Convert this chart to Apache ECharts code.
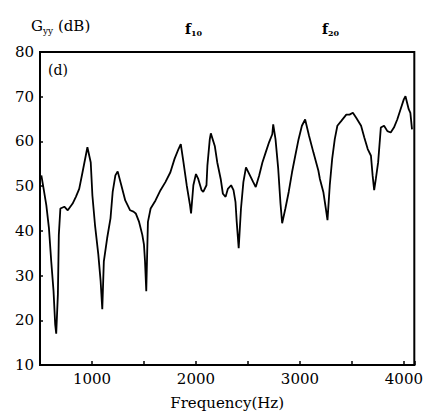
<!DOCTYPE html>
<html><head><meta charset="utf-8">
<script src="https://cdn.jsdelivr.net/npm/echarts@6/dist/echarts.min.js"></script>
<style>html,body{margin:0;padding:0;background:#fff}#c{width:426px;height:415px}</style>
</head><body><div id="c"></div>
<script>
const freqHz = [513,535,561,586,608,630,646,656,672,681,696,734,767,814,845,877,909,940,956,988,1004,1029,1061,1083,1099,1114,1146,1178,1199,1225,1247,1282,1320,1367,1399,1421,1453,1484,1500,1510,1522,1538,1564,1611,1659,1706,1754,1794,1832,1854,1880,1911,1943,1953,1975,2000,2022,2054,2070,2101,2110,2133,2143,2181,2205,2238,2259,2285,2307,2338,2361,2380,2392,2411,2433,2456,2481,2513,2551,2575,2608,2639,2670,2703,2734,2743,2765,2791,2813,2829,2860,2892,2924,2955,2987,3019,3050,3088,3130,3177,3192,3225,3249,3265,3287,3310,3335,3360,3398,3446,3477,3509,3541,3588,3619,3652,3683,3699,3714,3730,3752,3778,3809,3841,3873,3904,3936,3968,3999,4015,4046,4062,4078];
const gyyDb = [52.4,49.4,45.7,40.6,33.2,26.6,19.1,17.0,25.8,39.1,45.0,45.4,44.6,46.1,47.6,49.4,53.1,56.8,58.7,55.3,47.9,41.3,34.7,28.8,22.5,33.2,38.4,42.8,48.7,52.4,53.3,50.2,46.8,44.6,44.3,43.9,42.0,39.1,36.9,33.2,26.5,42.0,45.0,46.8,49.1,50.9,53.1,56.1,58.3,59.4,55.3,50.2,45.7,43.9,50.2,52.7,51.6,49.1,48.7,50.2,54.6,60.5,61.8,59.0,55.3,51.6,48.3,47.6,49.4,50.2,49.1,46.5,42.0,36.1,45.0,50.9,54.2,52.7,50.9,49.8,52.4,55.3,57.5,59.8,61.6,63.8,60.5,53.9,46.1,41.7,45.0,48.7,53.1,56.8,60.5,63.5,64.9,61.2,57.5,53.5,51.6,48.7,45.0,42.4,50.2,56.1,60.5,63.5,64.6,66.0,66.0,66.4,65.3,63.5,60.9,58.3,56.8,52.4,49.1,51.6,55.3,63.1,63.5,62.3,62.0,63.1,64.9,67.2,69.4,70.1,67.2,66.4,62.7];
const xTickLabels = [1000,2000,3000,4000];
const yTickLabels = [10,20,30,40,50,60,70,80];
const xAxisName = 'Frequency(Hz)';
const panelLabel = '(d)';

const FONT = 'DejaVu Serif';
const chart = echarts.init(document.getElementById('c'), null, {renderer:'svg'});
chart.setOption({
  animation:false,
  backgroundColor:'#fff',
  grid:{left:40,top:52,right:8,bottom:47,show:true,borderColor:'#000',borderWidth:2,backgroundColor:'transparent'},
  title:[
    {text:'G{s|yy} (dB)',left:26,top:12,textStyle:{fontFamily:FONT,fontSize:15,fontWeight:'normal',color:'#000',rich:{s:{fontFamily:FONT,fontSize:9,padding:[9,0,0,0],color:'#000'}}}},
    {text:'f{s|10}',left:180,top:15,textStyle:{fontFamily:FONT,fontSize:14,fontWeight:'bold',color:'#000',rich:{s:{fontFamily:FONT,fontSize:8,padding:[9,0,0,0],color:'#000'}}}},
    {text:'f{s|20}',left:317,top:15,textStyle:{fontFamily:FONT,fontSize:14,fontWeight:'bold',color:'#000',rich:{s:{fontFamily:FONT,fontSize:8,padding:[9,0,0,0],color:'#000'}}}},
    {text:panelLabel,left:43,top:58,textStyle:{fontFamily:FONT,fontSize:14,fontWeight:'normal',color:'#000'}}
  ],
  xAxis:{type:'value',min:500,max:4100,interval:500,
    name:xAxisName,nameLocation:'middle',nameGap:30,
    nameTextStyle:{fontFamily:FONT,fontSize:15,color:'#000'},
    axisLine:{show:true,lineStyle:{color:'#000',width:2}},
    axisTick:{show:true,inside:true,length:4,lineStyle:{color:'#000',width:1.5}},
    axisLabel:{fontFamily:FONT,fontSize:15,color:'#000',margin:6,
      formatter:v=>xTickLabels.indexOf(v)>=0?String(v):''},
    splitLine:{show:false}},
  yAxis:{type:'value',min:10,max:80,interval:10,
    axisLine:{show:true,lineStyle:{color:'#000',width:2}},
    axisTick:{show:true,inside:true,length:3,lineStyle:{color:'#000',width:1.5}},
    axisLabel:{fontFamily:FONT,fontSize:15,color:'#000',margin:6,
      formatter:v=>yTickLabels.indexOf(v)>=0?String(v):''},
    splitLine:{show:false}},
  series:[{type:'line',data:freqHz.map((f,i)=>[f,gyyDb[i]]),showSymbol:false,
    lineStyle:{color:'#000',width:1.8},clip:true}]
});
</script></body></html>
